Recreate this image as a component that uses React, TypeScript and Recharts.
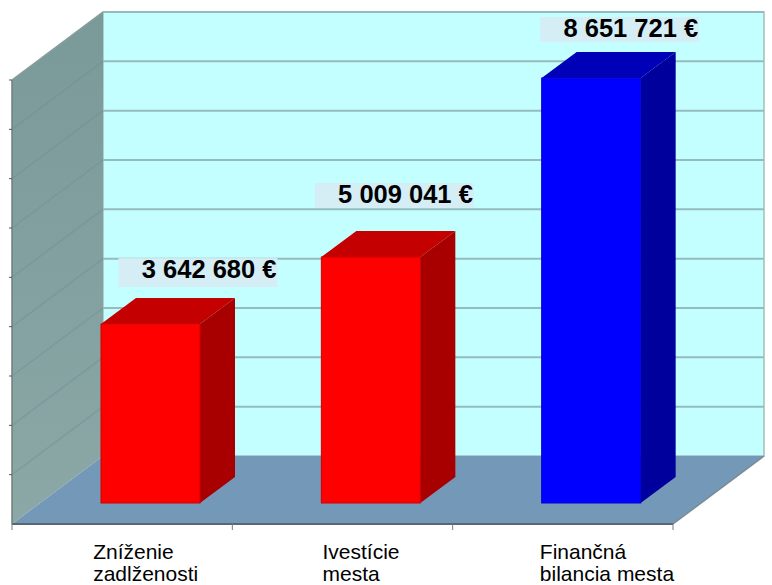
import { Bar, BarChart, CartesianGrid, LabelList, ReferenceArea, XAxis, YAxis } from "recharts";

const CATEGORIES = ["Zníženie|zadlženosti", "Ivestície|mesta", "Finančná|bilancia mesta"];
const AMOUNTS = [3642680, 5009041, 8651721];
const Y_TICKS = [0, 1000000, 2000000, 3000000, 4000000, 5000000, 6000000, 7000000, 8000000, 9000000];

const FRONT_COLORS = ["#ff0000", "#ff0000", "#0000ff"];
const TOP_COLORS = ["#c40000", "#c40000", "#0000b8"];
const SIDE_COLORS = ["#a80000", "#a80000", "#00009c"];
const EDGE_COLORS = ["#d00000", "#d00000", "#0000d0"];

// 3D box: the bars sit in the middle of the floor depth
const BAR_DX = 35;
const BAR_DY = 26;
const BACK_DX = 63;
const BACK_DY = 47;
const FRONT_DX = 28;
const FRONT_DY = 21;
// walls are a touch taller than the plane the bars stand on
const WALL_SCALE = 444 / 442;
const PLOT_BOTTOM = 503;

// where each amount box sits relative to its bar (hand placed, they are not regular)
const LABEL_DX = [-32, -56, -51];
const LABEL_DY = [-66, -74, -61];
const LABEL_H = [29, 25, 25];
const TICK_DX = [-57, -48, -51];

const data = CATEGORIES.map((name, i) => ({ name, amount: AMOUNTS[i] }));

const formatAmount = (v: number) => String(v).replace(/\B(?=(\d{3})+$)/g, " ") + " €";

const backY = (y: number) => PLOT_BOTTOM - BACK_DY - (PLOT_BOTTOM - y) * WALL_SCALE;
const frontY = (y: number) => PLOT_BOTTOM + FRONT_DY - (PLOT_BOTTOM - y) * WALL_SCALE;

function Walls({ x, y, width, height }: any) {
  const bottom = y + height;
  const right = x + width;
  const fx = x - FRONT_DX;
  const bx = x + BACK_DX;
  const fy = frontY(bottom);
  const by = backY(bottom);
  const topB = backY(y);
  const topF = frontY(y);
  const band = width / CATEGORIES.length;
  return (
    <g>
      <defs>
        <linearGradient id="sideWall" x1="0" y1="0" x2="0" y2="1">
          <stop offset="0%" stopColor="#7a9999" />
          <stop offset="100%" stopColor="#8ba8a6" />
        </linearGradient>
      </defs>
      <rect x={bx} y={topB} width={width} height={by - topB} fill="#c4ffff" stroke="#a6bdbd" strokeWidth={1.5} />
      <polygon
        points={`${fx},${topF} ${bx},${topB} ${bx},${by} ${fx},${fy}`}
        fill="url(#sideWall)"
      />
      <line x1={fx} y1={topF} x2={bx} y2={topB} stroke="#9aa8a8" strokeWidth={1.5} />
      <line x1={fx} y1={topF} x2={fx} y2={fy} stroke="#6f7f7f" strokeWidth={1.5} />
      <polygon
        points={`${fx},${fy} ${bx},${by} ${right + BACK_DX},${by} ${right - FRONT_DX},${fy}`}
        fill="#7398b8"
      />
      <line x1={right - FRONT_DX} y1={fy} x2={right + BACK_DX} y2={by} stroke="#7b8a96" strokeWidth={1.5} />
      <line x1={fx} y1={fy} x2={right - FRONT_DX} y2={fy} stroke="#5b6670" strokeWidth={2} />
      {CATEGORIES.concat("").map((_, i) => (
        <line
          key={i}
          x1={fx + band * i}
          y1={fy}
          x2={fx + band * i}
          y2={fy + 6}
          stroke="#7b7b7b"
        />
      ))}
    </g>
  );
}

function GridLine({ x1, x2, y1 }: any) {
  if (y1 > PLOT_BOTTOM - 1) return null;
  const fx = x1 - FRONT_DX;
  const bx = x1 + BACK_DX;
  return (
    <g>
      <line x1={bx} y1={backY(y1)} x2={x2 + BACK_DX} y2={backY(y1)} stroke="#95bcbc" strokeWidth={2} />
      <line x1={fx} y1={frontY(y1)} x2={bx} y2={backY(y1)} stroke="#6f8f8f" strokeWidth={1.5} strokeOpacity={0.45} />
      <line x1={fx - 3} y1={frontY(y1)} x2={fx} y2={frontY(y1)} stroke="#555555" />
    </g>
  );
}

function Box3D({ x, y, width, height, index }: any) {
  const i = index as number;
  const r = x + width;
  const b = y + height;
  return (
    <g>
      <polygon
        points={`${x},${y} ${x + BAR_DX},${y - BAR_DY} ${r + BAR_DX},${y - BAR_DY} ${r},${y}`}
        fill={TOP_COLORS[i]}
      />
      <polygon
        points={`${r},${y} ${r + BAR_DX},${y - BAR_DY} ${r + BAR_DX},${b - BAR_DY} ${r},${b}`}
        fill={SIDE_COLORS[i]}
      />
      <rect x={x} y={y} width={width} height={height} fill={FRONT_COLORS[i]} stroke={EDGE_COLORS[i]} strokeWidth={1} />
    </g>
  );
}

function AmountLabel({ x, y, width, value, index }: any) {
  const i = index as number;
  const left = x + width / 2 + LABEL_DX[i];
  const top = y + LABEL_DY[i];
  return (
    <g>
      <rect x={left} y={top} width={159} height={LABEL_H[i]} fill="#d5edf5" />
      <text
        x={left + 158}
        y={top + 20}
        textAnchor="end"
        fontFamily="Liberation Sans"
        fontWeight="bold"
        fontSize={25.5}
        fill="#000000"
      >
        {formatAmount(value)}
      </text>
    </g>
  );
}

function CategoryTick({ x, y, payload, index }: any) {
  const lines = String(payload.value).split("|");
  return (
    <text fontFamily="Liberation Sans" fontSize={21} fill="#000000">
      {lines.map((line, n) => (
        <tspan key={n} x={x + TICK_DX[index]} y={PLOT_BOTTOM + 56 + n * 22}>
          {line}
        </tspan>
      ))}
    </text>
  );
}

export default function App() {
  return (
    <div style={{ position: "absolute", left: 0, top: 0, width: 772, height: 585 }}>
      <BarChart
        width={772}
        height={585}
        data={data}
        margin={{ top: 61, right: 71, bottom: 52, left: 40 }}
      >
        <ReferenceArea y1={0} y2={9000000} ifOverflow="visible" shape={Walls} zIndex={-200} />
        <CartesianGrid vertical={false} horizontal={GridLine as any} />
        <XAxis dataKey="name" axisLine={false} tickLine={false} height={30} tick={CategoryTick} interval={0} />
        <YAxis hide domain={[0, 9000000]} ticks={Y_TICKS} />
        <Bar dataKey="amount" barSize={99} shape={Box3D} isAnimationActive={false}>
          <LabelList dataKey="amount" content={AmountLabel} />
        </Bar>
      </BarChart>
    </div>
  );
}
